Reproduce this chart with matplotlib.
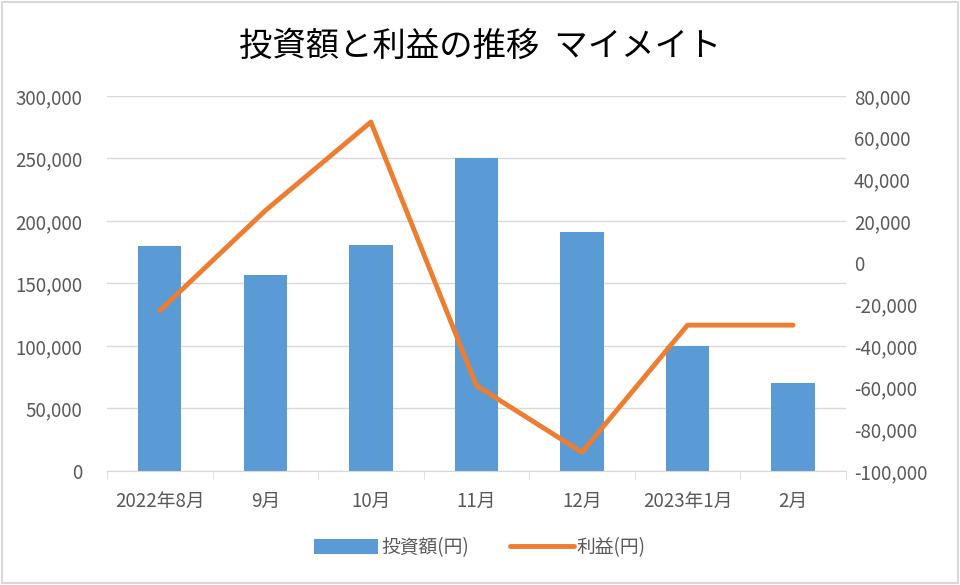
import matplotlib.pyplot as plt
import numpy as np
from matplotlib.ticker import FuncFormatter, FixedLocator

plt.rcParams['font.family'] = ['Noto Sans CJK JP', 'DejaVu Sans']

months = ['2022年8月', '9月', '10月', '11月', '12月', '2023年1月', '2月']
investment = [180000, 157000, 181000, 250000, 191000, 100000, 70000]
profit = [-23000, 25000, 67500, -59000, -91000, -30000, -30000]

blue = '#5b9bd5'
orange = '#ed7d31'
gray = '#595959'
grid = '#d9d9d9'

fig = plt.figure(figsize=(9.6, 5.85), dpi=100)
ax = fig.add_axes([0.1115, 0.1949, 0.7695, 0.641])
ax2 = ax.twinx()

x = np.arange(len(months))
ax.bar(x, investment, width=0.41, color=blue, label='投資額(円)', zorder=2)
ax2.plot(x, profit, color=orange, lw=3.5, solid_capstyle='round', label='利益(円)', zorder=3)

ax.set_xlim(-0.5, len(months) - 0.5)
ax.set_ylim(0, 300000)
ax2.set_ylim(-100000, 80000)
ax.set_yticks(np.arange(0, 300001, 50000))
ax2.set_yticks(np.arange(-100000, 80001, 20000))
fmt = FuncFormatter(lambda v, p: f'{int(v):,}')
ax.yaxis.set_major_formatter(fmt)
ax2.yaxis.set_major_formatter(fmt)

ax.grid(axis='y', color=grid, lw=1, zorder=0)
ax.set_axisbelow(True)

for a in (ax, ax2):
    for s in a.spines.values():
        s.set_visible(False)
ax.spines['bottom'].set_visible(True)
ax.spines['bottom'].set_color(grid)

ax.set_xticks(x)
ax.set_xticklabels(months)
ax.xaxis.set_minor_locator(FixedLocator(np.arange(-0.5, len(months), 1)))
ax.tick_params(axis='x', which='major', length=0, pad=14, labelsize=13.5, labelcolor=gray)
ax.tick_params(axis='x', which='minor', length=6, color=grid)
ax.tick_params(axis='y', length=0, pad=18, labelsize=13.5, labelcolor=gray)
ax2.tick_params(axis='y', length=0, pad=6, labelsize=13.5, labelcolor=gray)

fig.suptitle('投資額と利益の推移  マイメイト', y=0.95, fontsize=24)

h1, l1 = ax.get_legend_handles_labels()
h2, l2 = ax2.get_legend_handles_labels()
fig.legend(h1 + h2, l1 + l2, loc='center', bbox_to_anchor=(0.5, 0.064), ncol=2,
           frameon=False, fontsize=13.5, labelcolor=gray, handlelength=3.4,
           handleheight=0.8, handletextpad=0.15, columnspacing=2.2)

fig.patches.append(plt.Rectangle((0.002, 0.003), 0.996, 0.994, transform=fig.transFigure,
                                 fill=False, edgecolor='#d9d9d9', lw=1.5))

fig.savefig('out.png', dpi=100)
